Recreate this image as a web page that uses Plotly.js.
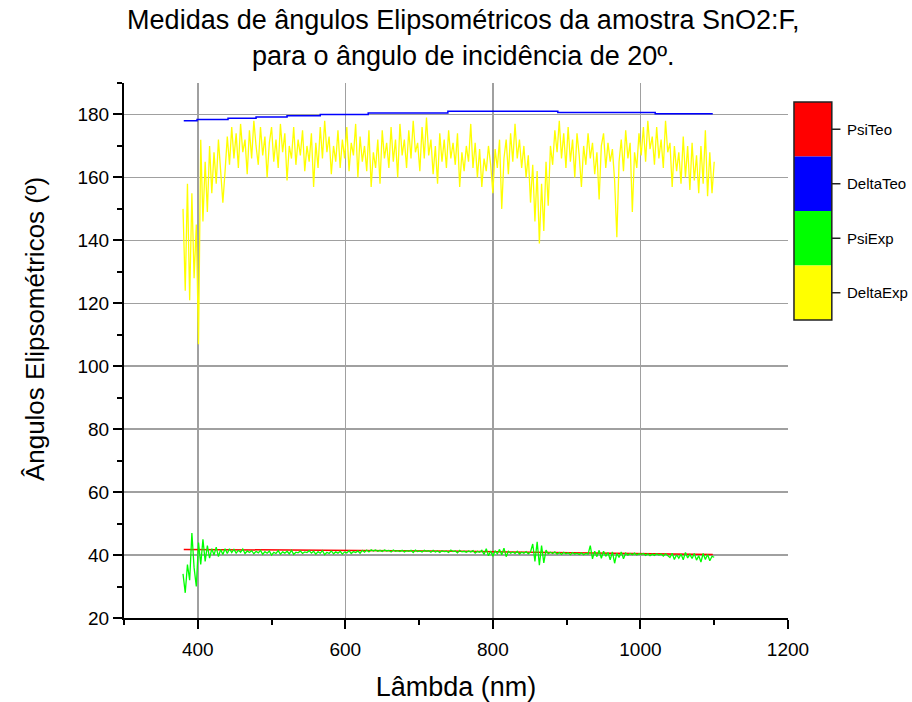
<!DOCTYPE html>
<html>
<head>
<meta charset="utf-8">
<script src="https://cdn.plot.ly/plotly-3.0.1.min.js"></script>
<style>html,body{margin:0;padding:0;background:#fff;}#chart{width:912px;height:702px;}</style>
</head>
<body>
<div id="chart"></div>
<script>
// Wavelength grid of the experimental curves (nm)
const lambdaExp = [
  380,383,386,389,392,395,398,401,404,407,
  410,413,416,419,422,425,428,431,434,437,
  440,443,446,449,452,455,458,461,464,467,
  470,473,476,479,482,485,488,491,494,497,
  500,503,506,509,512,515,518,521,524,527,
  530,533,536,539,542,545,548,551,554,557,
  560,563,566,569,572,575,578,581,584,587,
  590,593,596,599,602,605,608,611,614,617,
  620,623,626,629,632,635,638,641,644,647,
  650,653,656,659,662,665,668,671,674,677,
  680,683,686,689,692,695,698,701,704,707,
  710,713,716,719,722,725,728,731,734,737,
  740,743,746,749,752,755,758,761,764,767,
  770,773,776,779,782,785,788,791,794,797,
  800,803,806,809,812,815,818,821,824,827,
  830,833,836,839,842,845,848,851,854,857,
  860,863,866,869,872,875,878,881,884,887,
  890,893,896,899,902,905,908,911,914,917,
  920,923,926,929,932,935,938,941,944,947,
  950,953,956,959,962,965,968,971,974,977,
  980,983,986,989,992,995,998,1001,1004,1007,
  1010,1013,1016,1019,1022,1025,1028,1031,1034,1037,
  1040,1043,1046,1049,1052,1055,1058,1061,1064,1067,
  1070,1073,1076,1079,1082,1085,1088,1091,1094,1097,
  1100];

const deltaExp = [
  150,124,158,121,155,128,145,107,172,146,
  165,149,170,155,168,158,172,160,152,162,
  173,164,176,166,174,163,177,168,172,161,
  175,166,178,170,164,176,167,173,160,171,
  176,165,172,163,177,168,174,159,170,166,
  176,164,172,167,175,162,170,165,174,157,
  171,163,176,166,178,168,173,161,170,165,
  175,163,172,166,176,162,171,167,177,160,
  173,165,170,162,175,157,168,163,172,158,
  175,166,171,163,176,165,172,160,177,167,
  172,163,175,166,178,168,171,162,176,166,
  179,167,172,161,170,158,174,165,172,163,
  175,166,171,164,174,157,168,162,170,165,
  177,163,171,160,169,157,166,162,170,164,
  155,169,163,172,150,166,172,161,174,165,
  177,166,172,163,170,160,167,152,164,146,
  162,139,158,143,165,151,170,164,175,168,
  178,166,174,163,176,165,172,160,174,167,
  157,170,164,174,166,171,161,168,153,170,
  174,163,171,165,169,159,141,165,172,162,
  175,166,171,149,168,163,174,167,176,165,
  178,169,173,164,176,166,172,163,178,168,
  171,157,170,162,168,158,173,160,170,156,
  171,159,167,155,170,158,175,154,168,155,
  165];

const psiExp = [
  34,28,37,32,47,36,30,44,37,45,
  38,43,39,42,40,42.5,39.5,41.8,40.2,42,
  40.5,42,40.8,41.8,40.6,41.5,40.9,41.9,40.5,41.3,
  40.8,41.4,40.4,41.2,40.7,41.5,40.2,41.1,40.6,41.3,
  40.0,40.9,40.5,41.4,40.3,41.0,40.6,41.2,40.4,41.5,
  40.2,40.9,40.7,41.3,40.5,41.0,40.8,41.4,40.6,41.2,
  40.3,41.1,40.6,41.4,40.1,40.9,40.5,41.3,40.4,41.0,
  40.6,41.2,40.3,41.0,40.7,41.4,40.5,41.1,40.8,41.3,
  40.6,41.5,40.9,41.6,41.0,41.7,41.3,41.6,41.2,41.5,
  41.1,41.6,41.3,41.5,41.0,41.6,41.2,41.4,41.1,41.5,
  41.0,41.4,41.2,41.5,40.8,41.6,41.1,41.3,41.0,41.5,
  41.2,41.4,40.9,41.5,41.0,41.3,40.8,41.4,41.1,41.2,
  40.8,41.6,41.1,41.3,40.7,41.5,41.0,41.2,40.9,41.3,
  41.0,41.4,40.6,41.2,40.9,41.5,40.2,42.0,39.8,41.3,
  39.6,41.4,40.4,41.8,40.1,42.2,39.5,41.2,40.6,41.0,
  40.5,41.2,40.3,40.9,40.6,41.1,40.4,41.0,43.5,38.0,
  44.2,36.8,43.0,37.5,41.6,40.4,40.9,40.5,41.0,40.3,
  40.8,40.2,40.9,40.4,40.7,40.1,40.8,40.3,40.6,40.2,
  40.7,40.1,40.5,40.3,43.0,38.8,41.2,39.5,41.5,39.0,
  41.2,39.6,40.8,38.5,41.0,37.4,40.6,39.2,41.0,38.8,
  40.6,40.0,40.5,40.1,40.6,40.0,40.4,40.2,40.5,39.9,
  40.4,39.8,40.3,39.9,40.4,40.0,40.3,39.7,40.4,39.9,
  39.2,40.6,38.6,40.1,39.0,40.3,38.5,40.8,39.1,40.2,
  38.9,40.5,38.4,39.8,37.8,40.5,38.6,40.2,38.2,39.6,
  39.3];

// Theoretical curves (stepped)
const lambdaDeltaTeo = [381,399,441,479,521,566,631,739,888,1020,1098];
const deltaTeo = [178.0,178.4,178.8,179.2,179.6,180.0,180.5,181.0,180.6,180.2,180.2];
const lambdaPsiTeo = [381,633,760,880,1000,1098];
const psiTeo = [41.8,41.5,41.2,40.8,40.4,40.2];

const seriesNames = ['PsiTeo','DeltaTeo','PsiExp','DeltaExp'];
const seriesColors = ['#ff0000','#0000ff','#00ff00','#ffff00'];

const FONT = 'Arial, "Liberation Sans", sans-serif';

const traces = [
  {x: lambdaPsiTeo, y: psiTeo, name: seriesNames[0], type: 'scatter', mode: 'lines', line: {color: seriesColors[0], width: 1.5}},
  {x: lambdaDeltaTeo, y: deltaTeo, name: seriesNames[1], type: 'scatter', mode: 'lines', line: {color: seriesColors[1], width: 1.5, shape: 'hv'}},
  {x: lambdaExp, y: psiExp, name: seriesNames[2], type: 'scatter', mode: 'lines', line: {color: seriesColors[2], width: 1.3}},
  {x: lambdaExp, y: deltaExp, name: seriesNames[3], type: 'scatter', mode: 'lines', line: {color: seriesColors[3], width: 1.3}}
];

// Block legend (paper coordinates)
const legX0 = 1.009, legX1 = 1.066, legTop = 0.9645, legBot = 0.557;
const shapes = [];
const annotations = [];
const n = seriesNames.length;
for (let i = 0; i < n; i++) {
  const yTop = legTop - (legTop - legBot) * i / n;
  const yBot = legTop - (legTop - legBot) * (i + 1) / n;
  const yMid = (yTop + yBot) / 2;
  shapes.push({type: 'rect', xref: 'paper', yref: 'paper', x0: legX0, x1: legX1, y0: yBot, y1: yTop, fillcolor: seriesColors[i], line: {width: 0}});
  shapes.push({type: 'line', xref: 'paper', yref: 'paper', x0: legX1, x1: legX1 + 0.013, y0: yMid, y1: yMid, line: {color: '#222', width: 1.5}});
  annotations.push({xref: 'paper', yref: 'paper', x: legX1 + 0.02, y: yMid, xanchor: 'left', yanchor: 'middle', text: seriesNames[i], showarrow: false, font: {family: FONT, size: 15, color: '#000'}});
}
shapes.push({type: 'rect', xref: 'paper', yref: 'paper', x0: legX0, x1: legX1, y0: legBot, y1: legTop, line: {color: '#222', width: 1.5}});

annotations.push({xref: 'paper', yref: 'paper', x: -0.134, y: 0.54, xanchor: 'center', yanchor: 'middle', textangle: -90, text: 'Ângulos Elipsométricos (º)', showarrow: false, font: {family: FONT, size: 26, color: '#000'}});

const layout = {
  width: 912, height: 702,
  margin: {l: 124, r: 124, t: 83, b: 84},
  paper_bgcolor: '#fff', plot_bgcolor: '#fff',
  showlegend: false,
  font: {family: FONT, color: '#000'},
  title: {text: 'Medidas de ângulos Elipsométricos da amostra SnO2:F,<br>para o ângulo de incidência de 20º.', x: 0.508, xanchor: 'center', yref: 'container', y: 0.958, yanchor: 'top', font: {family: FONT, size: 27, color: '#000'}},
  xaxis: {
    range: [300, 1200], tickvals: [400,600,800,1000,1200],
    showline: true, linecolor: '#000', linewidth: 2, mirror: false,
    ticks: 'outside', ticklen: 9, tickwidth: 2, tickcolor: '#000', ticklabelstandoff: 4,
    showgrid: true, gridcolor: '#a0a0a0', gridwidth: 1.5, zeroline: false,
    tickfont: {family: FONT, size: 19, color: '#000'},
    minor: {tickvals: [300,500,700,900,1100], ticks: 'outside', ticklen: 5, tickwidth: 2, tickcolor: '#000', showgrid: false},
    title: {text: 'Lâmbda (nm)', font: {family: FONT, size: 27, color: '#000'}, standoff: 20},
    automargin: false
  },
  yaxis: {
    range: [20, 190], tickvals: [20,40,60,80,100,120,140,160,180],
    showline: true, linecolor: '#000', linewidth: 2, mirror: false,
    ticks: 'outside', ticklen: 9, tickwidth: 2, tickcolor: '#000',
    showgrid: true, gridcolor: '#a0a0a0', gridwidth: 1.5, zeroline: false,
    tickfont: {family: FONT, size: 19, color: '#000'},
    minor: {tickvals: [30,50,70,90,110,130,150,170,190], ticks: 'outside', ticklen: 5, tickwidth: 2, tickcolor: '#000', showgrid: false},
    automargin: false
  },
  shapes: shapes,
  annotations: annotations
};

Plotly.newPlot('chart', traces, layout, {displayModeBar: false, staticPlot: true});
</script>
</body>
</html>
